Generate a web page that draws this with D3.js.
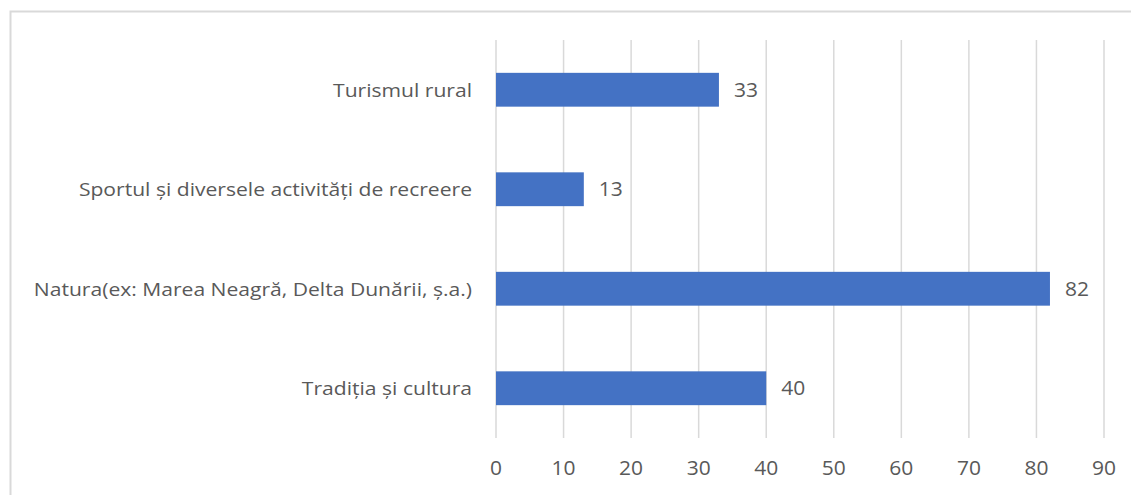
<!DOCTYPE html>
<html><head><meta charset="utf-8">
<script src="https://cdn.jsdelivr.net/npm/d3@7"></script>
<style>body{margin:0;background:#fff;}svg{display:block;}</style>
</head><body>
<script>
const categories = ["Turismul rural", "Sportul și diversele activități de recreere", "Natura(ex: Marea Neagră, Delta Dunării, ș.a.)", "Tradiția și cultura"];
const values = [33, 13, 82, 40];
const ticks = [0, 10, 20, 30, 40, 50, 60, 70, 80, 90];

const W = 1131, H = 495;
const m = {left: 496, right: 27, top: 40, bottom: 57};
const svg = d3.select("body").append("svg").attr("width", W).attr("height", H);
const font = "'Open Sans', 'Noto Sans', sans-serif";
const txt = "#595959";

svg.append("rect").attr("x", 10.5).attr("y", 11.5).attr("width", W).attr("height", H)
  .attr("fill", "#fff").attr("stroke", "#d9d9d9").attr("stroke-width", 2);

const x = d3.scaleLinear().domain([0, 90]).range([m.left, W - m.right]);
const y = d3.scaleBand().domain(categories).range([m.top, H - m.bottom]).paddingInner(0.66).paddingOuter(0.33);

svg.append("g").selectAll("line").data(ticks).join("line")
  .attr("x1", d => x(d)).attr("x2", d => x(d))
  .attr("y1", m.top).attr("y2", H - m.bottom)
  .attr("stroke", "#d9d9d9").attr("stroke-width", 1.5);

svg.append("g").selectAll("rect").data(values).join("rect")
  .attr("x", x(0)).attr("y", (d, i) => y(categories[i]))
  .attr("width", d => x(d) - x(0)).attr("height", y.bandwidth())
  .attr("fill", "#4472C4");

svg.append("g").selectAll("text").data(values).join("text")
  .attr("transform", (d, i) => `translate(${x(d) + 15},${y(categories[i]) + y.bandwidth() / 2}) scale(1.05,1)`)
  .attr("dy", "0.36em").attr("fill", txt).attr("font-family", font).attr("font-size", 20)
  .text(d => d);

svg.append("g").selectAll("text").data(categories).join("text")
  .attr("transform", d => `translate(472,${y(d) + y.bandwidth() / 2}) scale(1.11,1)`)
  .attr("dy", "0.36em").attr("text-anchor", "end").attr("fill", txt)
  .attr("font-family", font).attr("font-size", 19)
  .text(d => d);

svg.append("g").selectAll("text").data(ticks).join("text")
  .attr("transform", d => `translate(${x(d)},468) scale(1.05,1)`)
  .attr("dy", "0.36em").attr("text-anchor", "middle")
  .attr("fill", txt).attr("font-family", font).attr("font-size", 20)
  .text(d => d);
</script>
</body></html>
